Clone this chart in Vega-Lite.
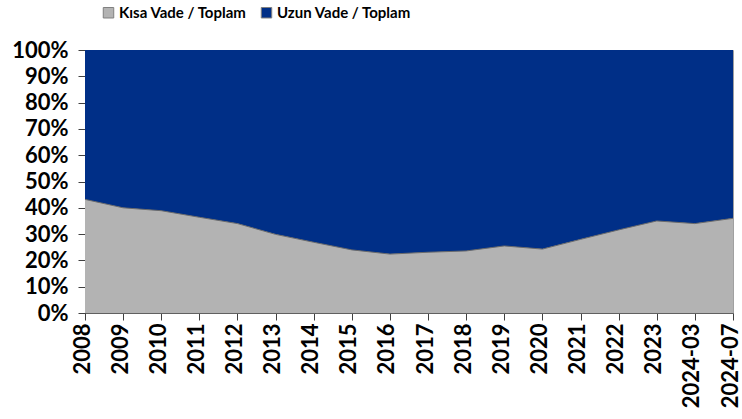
{
  "$schema": "https://vega.github.io/schema/vega-lite/v6.json",
  "width": 648,
  "height": 263,
  "autosize": {"type": "none"},
  "padding": {"left": 85, "top": 50, "right": 9, "bottom": 106},
  "background": "white",
  "config": {
    "view": {"stroke": "#a0a0a0", "strokeWidth": 1},
    "font": "Lato"
  },
  "data": {
    "values": [
      {"yil": "2008", "seri": "Kısa Vade / Toplam", "oran": 0.432},
      {"yil": "2009", "seri": "Kısa Vade / Toplam", "oran": 0.400},
      {"yil": "2010", "seri": "Kısa Vade / Toplam", "oran": 0.389},
      {"yil": "2011", "seri": "Kısa Vade / Toplam", "oran": 0.364},
      {"yil": "2012", "seri": "Kısa Vade / Toplam", "oran": 0.340},
      {"yil": "2013", "seri": "Kısa Vade / Toplam", "oran": 0.299},
      {"yil": "2014", "seri": "Kısa Vade / Toplam", "oran": 0.269},
      {"yil": "2015", "seri": "Kısa Vade / Toplam", "oran": 0.240},
      {"yil": "2016", "seri": "Kısa Vade / Toplam", "oran": 0.224},
      {"yil": "2017", "seri": "Kısa Vade / Toplam", "oran": 0.231},
      {"yil": "2018", "seri": "Kısa Vade / Toplam", "oran": 0.236},
      {"yil": "2019", "seri": "Kısa Vade / Toplam", "oran": 0.255},
      {"yil": "2020", "seri": "Kısa Vade / Toplam", "oran": 0.243},
      {"yil": "2021", "seri": "Kısa Vade / Toplam", "oran": 0.280},
      {"yil": "2022", "seri": "Kısa Vade / Toplam", "oran": 0.316},
      {"yil": "2023", "seri": "Kısa Vade / Toplam", "oran": 0.350},
      {"yil": "2024-03", "seri": "Kısa Vade / Toplam", "oran": 0.340},
      {"yil": "2024-07", "seri": "Kısa Vade / Toplam", "oran": 0.360},
      {"yil": "2008", "seri": "Uzun Vade / Toplam", "oran": 0.568},
      {"yil": "2009", "seri": "Uzun Vade / Toplam", "oran": 0.600},
      {"yil": "2010", "seri": "Uzun Vade / Toplam", "oran": 0.611},
      {"yil": "2011", "seri": "Uzun Vade / Toplam", "oran": 0.636},
      {"yil": "2012", "seri": "Uzun Vade / Toplam", "oran": 0.660},
      {"yil": "2013", "seri": "Uzun Vade / Toplam", "oran": 0.701},
      {"yil": "2014", "seri": "Uzun Vade / Toplam", "oran": 0.731},
      {"yil": "2015", "seri": "Uzun Vade / Toplam", "oran": 0.760},
      {"yil": "2016", "seri": "Uzun Vade / Toplam", "oran": 0.776},
      {"yil": "2017", "seri": "Uzun Vade / Toplam", "oran": 0.769},
      {"yil": "2018", "seri": "Uzun Vade / Toplam", "oran": 0.764},
      {"yil": "2019", "seri": "Uzun Vade / Toplam", "oran": 0.745},
      {"yil": "2020", "seri": "Uzun Vade / Toplam", "oran": 0.757},
      {"yil": "2021", "seri": "Uzun Vade / Toplam", "oran": 0.720},
      {"yil": "2022", "seri": "Uzun Vade / Toplam", "oran": 0.684},
      {"yil": "2023", "seri": "Uzun Vade / Toplam", "oran": 0.650},
      {"yil": "2024-03", "seri": "Uzun Vade / Toplam", "oran": 0.660},
      {"yil": "2024-07", "seri": "Uzun Vade / Toplam", "oran": 0.640}
    ]
  },
  "encoding": {
    "x": {
      "field": "yil",
      "type": "ordinal",
      "scale": {"type": "point", "padding": 0},
      "axis": {
        "title": null,
        "labelAngle": -90,
        "labelAlign": "right",
        "labelBaseline": "middle",
        "labelFont": "Lato",
        "labelFontWeight": "bold",
        "labelFontSize": 22,
        "labelColor": "black",
        "labelPadding": 3,
        "labelOffset": -3,
        "labelOverlap": false,
        "tickSize": 7,
        "tickColor": "#404040",
        "domainColor": "#606060"
      }
    },
    "y": {
      "field": "oran",
      "type": "quantitative",
      "stack": "zero",
      "scale": {"domain": [0, 1]},
      "axis": {
        "title": null,
        "format": ".0%",
        "values": [0, 0.1, 0.2, 0.3, 0.4, 0.5, 0.6, 0.7, 0.8, 0.9, 1],
        "grid": false,
        "labelFont": "Lato",
        "labelFontWeight": "bold",
        "labelFontSize": 22,
        "labelColor": "black",
        "labelPadding": 10,
        "labelOverlap": false,
        "labelFlush": false,
        "tickSize": 7,
        "tickColor": "#404040",
        "domainColor": "#404040"
      }
    }
  },
  "layer": [
    {
      "mark": {"type": "area", "opacity": 1},
      "encoding": {
        "color": {
          "field": "seri",
          "type": "nominal",
          "scale": {
            "domain": ["Kısa Vade / Toplam", "Uzun Vade / Toplam"],
            "range": ["#B3B3B3", "#002F87"]
          },
          "legend": {
            "title": null,
            "orient": "none",
            "direction": "horizontal",
            "legendX": 16,
            "legendY": -45,
            "symbolType": "square",
            "symbolSize": 110,
            "symbolStrokeColor": "#808080",
            "symbolStrokeWidth": 1,
            "labelFont": "Lato",
            "labelFontWeight": "bold",
            "labelFontSize": 15,
            "labelColor": "black",
            "labelOffset": 3,
            "columnPadding": 12
          }
        },
        "order": {"field": "seri", "sort": "ascending"}
      }
    },
    {
      "transform": [{"filter": "datum.seri === 'Kısa Vade / Toplam'"}],
      "mark": {"type": "line", "color": "#6a6a6a", "strokeWidth": 1},
      "encoding": {}
    }
  ]
}
